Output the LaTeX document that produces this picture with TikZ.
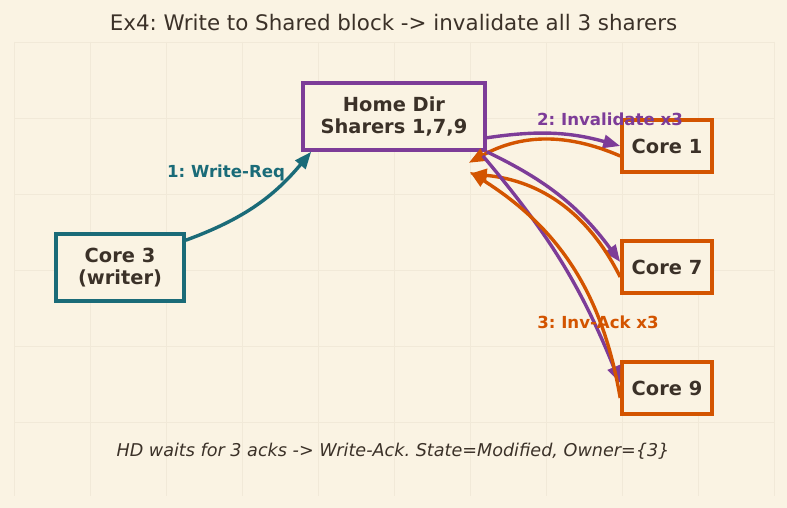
\documentclass[tikz,border=0pt]{standalone}
\usepackage{fontspec}
\setmainfont{DejaVu Sans}
\usetikzlibrary{arrows.meta,positioning}
\definecolor{paper}{HTML}{FAF3E3}
\definecolor{gridc}{HTML}{F1E9D8}
\definecolor{ink}{HTML}{3B3128}
\definecolor{tealw}{HTML}{1A6B78}
\definecolor{purp}{HTML}{7D3C98}
\definecolor{oran}{HTML}{D35400}
\frenchspacing

\begin{document}
\begin{tikzpicture}[x=1pt,y=-1pt,
  box/.style={draw,line width=3.6pt,fill=paper,text=ink,align=center,inner sep=0pt,
    font=\bfseries\fontsize{19.4}{22}\selectfont},
  msg/.style={line width=3.4pt,-{Triangle[length=17pt,width=13pt]}},
  lbl/.style={font=\bfseries\fontsize{16.6}{19}\selectfont}]
  \fill[paper] (0,0) rectangle (787,508);
  \useasboundingbox (0,0) rectangle (787,508);
  % faint grid of the axes
  \foreach \x in {14,90,...,774}{\draw[gridc,line width=0.6pt] (\x,42) -- (\x,496);}
  \foreach \y in {42,118,...,496}{\draw[gridc,line width=0.6pt] (14,\y) -- (774,\y);}
  \node[text=ink,font=\fontsize{21.4}{24}\selectfont] (title) at (393.5,23)
    {Ex4: Write to Shared block -> invalidate all 3 sharers};
  % directory and cores
  \node[box,draw=purp,minimum width=182pt,minimum height=67pt] (home) at (394,116.5) {Home Dir\\Sharers 1,7,9};
  \node[box,draw=tealw,minimum width=128pt,minimum height=67pt] (core3) at (120,267.5) {Core 3\\(writer)};
  \foreach \n/\y in {1/146,7/267,9/388}{
    \node[box,draw=oran,minimum width=90pt,minimum height=52pt] (core\n) at (667,\y) {Core \n};}
  % messages
  \draw[msg,tealw] ([yshift=-8pt]core3.north east) to[bend right=15] ([xshift=10pt]home.south west);
  \draw[msg,purp] ([yshift=14pt]home.south east) to[bend left=12] (core1.west);
  \draw[msg,oran] ([yshift=-10pt]core1.west) to[bend right=26] ([xshift=-18pt,yshift=-11pt]home.south east);
  \draw[msg,purp] (home.south east) to[bend left=14] ([yshift=5pt]core7.west);
  \draw[msg,oran] ([yshift=-10pt]core7.west) to[bend right=29] ([xshift=-17pt,yshift=-22pt]home.south east);
  \draw[msg,purp] ([xshift=-4pt,yshift=-4pt]home.south east) to[bend left=9] ([yshift=5pt]core9.west);
  \draw[msg,oran] ([yshift=-10pt]core9.west) to[bend right=24] ([xshift=-17pt,yshift=-20pt]home.south east);
  \node[lbl,text=tealw] (req) at (226,173) {1: Write-Req};
  \node[lbl,text=purp] (inv) at (610,119) {2: Invalidate x3};
  \node[lbl,text=oran] (ack) at (598,322) {3: Inv-Ack x3};
  \node[text=ink,font=\itshape\fontsize{17.6}{20}\selectfont] (note) at (393,451)
    {HD waits for 3 acks -> Write-Ack. State=Modified, Owner=\{3\}};
\end{tikzpicture}
\end{document}
